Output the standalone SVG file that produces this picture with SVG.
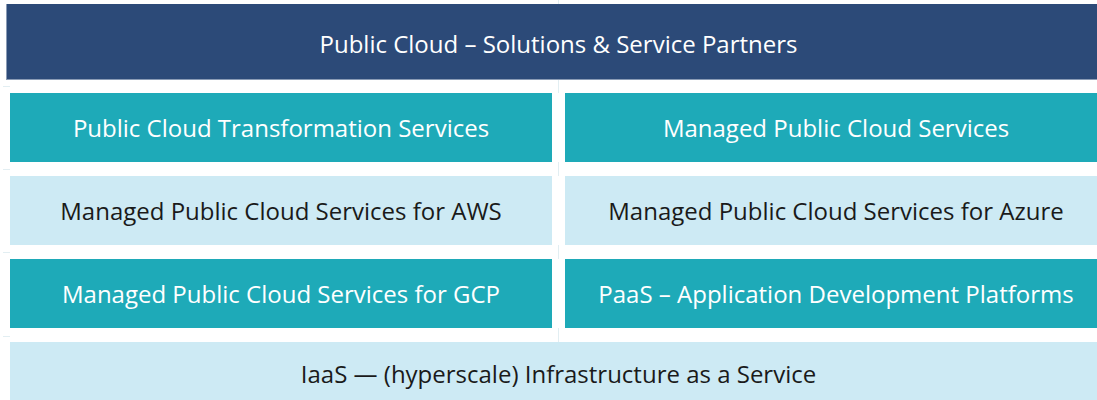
<svg xmlns="http://www.w3.org/2000/svg" width="1097" height="400" viewBox="0 0 1097 400">
  <style>
    .head { fill: #2c4a78; }
    .teal { fill: #1eaab8; }
    .pale { fill: #cdeaf4; }
    .grid { stroke: #e2eef2; stroke-width: 1; fill: none; }
    text { font-family: "Open Sans", "Liberation Sans", sans-serif; font-size: 24px; text-anchor: middle; }
    .light { fill: #ffffff; }
    .dark { fill: #1a1a1a; }
  </style>
  <rect width="1097" height="400" fill="#ffffff"/>

  <!-- faint table rules between rows and columns -->
  <g id="connectors" class="grid">
    <line x1="3" y1="86.5" x2="10" y2="86.5"/>
    <line x1="3" y1="169.5" x2="10" y2="169.5"/>
    <line x1="3" y1="252.5" x2="10" y2="252.5"/>
    <line x1="3" y1="336.5" x2="10" y2="336.5"/>
    <line x1="558.5" y1="0" x2="558.5" y2="4"/>
    <line x1="558.5" y1="79" x2="558.5" y2="93"/>
    <line x1="558.5" y1="162" x2="558.5" y2="176"/>
    <line x1="558.5" y1="245" x2="558.5" y2="259"/>
    <line x1="558.5" y1="328" x2="558.5" y2="342"/>
  </g>

  <g id="header">
    <rect class="head" x="7" y="4" width="1103" height="75"/>
    <line x1="6.5" y1="4" x2="6.5" y2="80" stroke="#8a9bb5" stroke-width="1"/>
    <line x1="6" y1="79.5" x2="1097" y2="79.5" stroke="#8a9bb5" stroke-width="1"/>
    <text class="light" x="558.5" y="52.5">Public Cloud – Solutions &amp; Service Partners</text>
  </g>

  <g id="transformation">
    <rect class="teal" x="10" y="93" width="542" height="69"/>
    <text class="light" x="281" y="137">Public Cloud Transformation Services</text>
  </g>
  <g id="managed">
    <rect class="teal" x="565" y="93" width="542" height="69"/>
    <text class="light" x="836" y="137">Managed Public Cloud Services</text>
  </g>

  <g id="aws">
    <rect class="pale" x="10" y="176" width="542" height="69"/>
    <text class="dark" x="281" y="220">Managed Public Cloud Services for AWS</text>
  </g>
  <g id="azure">
    <rect class="pale" x="565" y="176" width="542" height="69"/>
    <text class="dark" x="836" y="220">Managed Public Cloud Services for Azure</text>
  </g>

  <g id="gcp">
    <rect class="teal" x="10" y="259" width="542" height="69"/>
    <text class="light" x="281" y="303">Managed Public Cloud Services for GCP</text>
  </g>
  <g id="paas">
    <rect class="teal" x="565" y="259" width="542" height="69"/>
    <text class="light" x="836" y="303">PaaS – Application Development Platforms</text>
  </g>

  <g id="iaas">
    <rect class="pale" x="10" y="342" width="1097" height="60"/>
    <text class="dark" x="558.5" y="382.5">IaaS — (hyperscale) Infrastructure as a Service</text>
  </g>
</svg>
